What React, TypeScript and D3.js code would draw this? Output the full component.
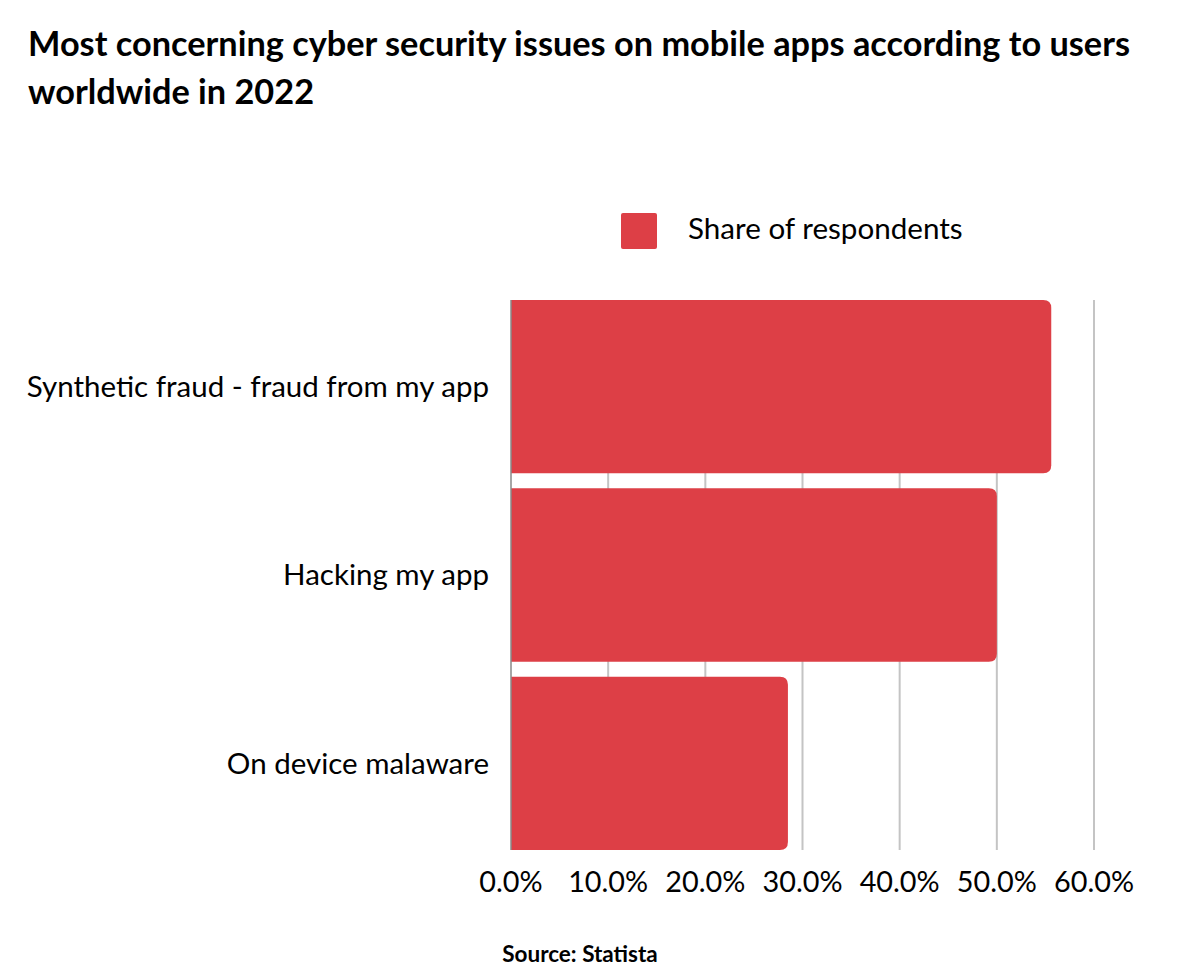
import React, { useEffect, useRef } from "react";
import * as d3 from "d3";

const categories = ["Synthetic fraud - fraud from my app", "Hacking my app", "On device malaware"];
const shares = [55.6, 50.0, 28.5];
const ticks = [0, 10, 20, 30, 40, 50, 60];
const titleLines = [
  "Most concerning cyber security issues on mobile apps according to users",
  "worldwide in 2022",
];
const seriesName = "Share of respondents";
const source = "Source: Statista";

const App = () => {
  const ref = useRef<SVGSVGElement>(null);

  useEffect(() => {
    const width = 1184;
    const height = 974;
    const margin = { top: 300, left: 511, right: 90, bottom: 124 };
    const font = "Lato, 'Open Sans', sans-serif";
    const red = "#dd3f46";

    const svg = d3.select(ref.current);
    svg.selectAll("*").remove();
    svg.attr("width", width).attr("height", height);

    const x = d3.scaleLinear().domain([0, 60]).range([margin.left, width - margin.right]);
    const y = d3
      .scaleBand()
      .domain(categories)
      .range([margin.top, height - margin.bottom])
      .paddingInner(0.08)
      .paddingOuter(0);

    // title
    svg
      .append("g")
      .selectAll("text")
      .data(titleLines)
      .enter()
      .append("text")
      .attr("x", 28)
      .attr("y", (d, i) => 56 + i * 48)
      .style("font-family", font)
      .style("font-weight", "bold")
      .style("font-size", "34.3px")
      .text((d) => d);

    // legend
    svg
      .append("rect")
      .attr("x", 621)
      .attr("y", 213)
      .attr("width", 36)
      .attr("height", 36)
      .attr("rx", 2)
      .attr("fill", red);
    svg
      .append("text")
      .attr("x", 688)
      .attr("y", 239)
      .style("font-family", font)
      .style("font-size", "29.6px")
      .text(seriesName);

    // gridlines
    svg
      .append("g")
      .selectAll("line")
      .data(ticks.slice(1))
      .enter()
      .append("line")
      .attr("x1", (d) => x(d))
      .attr("x2", (d) => x(d))
      .attr("y1", margin.top)
      .attr("y2", height - margin.bottom)
      .attr("stroke", "#c4c4c4")
      .attr("stroke-width", 2);

    // bars, rounded on the right end only
    const r = 8;
    svg
      .append("g")
      .selectAll("path")
      .data(categories)
      .enter()
      .append("path")
      .attr("fill", red)
      .attr("d", (d, i) => {
        const x0 = x(0);
        const x1 = x(shares[i]);
        const y0 = y(d)!;
        const h = y.bandwidth();
        return `M${x0},${y0}H${x1 - r}Q${x1},${y0} ${x1},${y0 + r}V${y0 + h - r}Q${x1},${y0 + h} ${x1 - r},${y0 + h}H${x0}Z`;
      });

    // axis line at 0
    svg
      .append("line")
      .attr("x1", x(0))
      .attr("x2", x(0))
      .attr("y1", margin.top)
      .attr("y2", height - margin.bottom)
      .attr("stroke", "#888")
      .attr("stroke-width", 1.5);

    // category labels
    svg
      .append("g")
      .selectAll("text")
      .data(categories)
      .enter()
      .append("text")
      .attr("x", 489)
      .attr("y", (d) => y(d)! + y.bandwidth() / 2)
      .attr("dy", "0.35em")
      .attr("text-anchor", "end")
      .style("font-family", font)
      .style("font-size", "29.5px")
      .text((d) => d);

    // tick labels
    svg
      .append("g")
      .selectAll("text")
      .data(ticks)
      .enter()
      .append("text")
      .attr("x", (d) => x(d))
      .attr("y", 892)
      .attr("text-anchor", "middle")
      .style("font-family", font)
      .style("font-size", "28.8px")
      .text((d) => d3.format(".1f")(d) + "%");

    // source
    svg
      .append("text")
      .attr("x", 580)
      .attr("y", 962)
      .attr("text-anchor", "middle")
      .style("font-family", font)
      .style("font-weight", "bold")
      .style("font-size", "22.5px")
      .text(source);
  }, []);

  return (
    <div style={{ position: "absolute", left: 0, top: 0 }}>
      <svg ref={ref}></svg>
    </div>
  );
};

export default App;
